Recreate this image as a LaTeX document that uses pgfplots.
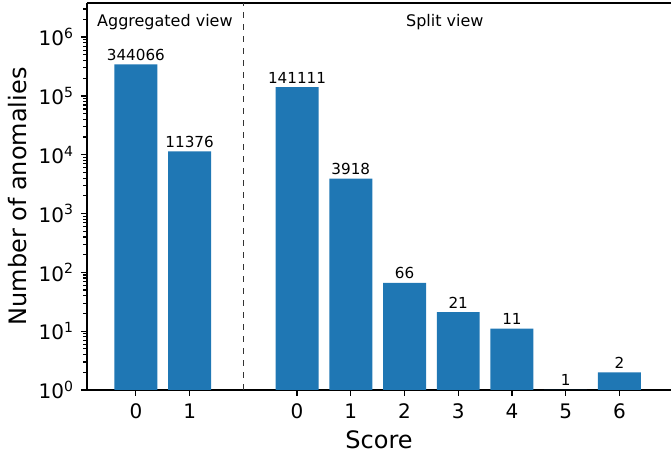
\documentclass[border=0pt]{standalone}
\usepackage{fontspec}
\setmainfont{DejaVu Sans}
\usepackage{pgfplots}
\pgfplotsset{compat=1.18}
\usetikzlibrary{calc}
\definecolor{mplblue}{RGB}{31,119,180}

\begin{document}
\begin{tikzpicture}
  \begin{axis}[
    name=ax,
    scale only axis,
    width=292pt, height=193.5pt,
    ymode=log,
    ymin=1, ymax=3.8e6,
    xmin=-0.91, xmax=9.96,
    axis x line=box, axis y line*=left,
    ybar, bar width=0.8, bar shift=0pt,
    xtick={0,1,3,4,5,6,7,8,9},
    xticklabels={0,1,0,1,2,3,4,5,6},
    ytick={1,10,100,1000,10000,100000,1000000},
    yticklabels={10\textsuperscript{0},10\textsuperscript{1},10\textsuperscript{2},10\textsuperscript{3},10\textsuperscript{4},10\textsuperscript{5},10\textsuperscript{6}},
    minor ytick={2,3,4,5,6,7,8,9,
      20,30,40,50,60,70,80,90,
      200,300,400,500,600,700,800,900,
      2e3,3e3,4e3,5e3,6e3,7e3,8e3,9e3,
      2e4,3e4,4e4,5e4,6e4,7e4,8e4,9e4,
      2e5,3e5,4e5,5e5,6e5,7e5,8e5,9e5,
      2e6,3e6},
    xtick pos=bottom, ytick pos=left,
    tick align=outside,
    major tick length=3pt, minor tick length=1.8pt,
    every tick/.style={black, line width=0.6pt},
    axis line style={line width=0.7pt},
    tick label style={font=\fontsize{10}{11}\selectfont},
    xticklabel style={yshift=-0.5pt},
    xlabel={Score}, ylabel={Number of anomalies},
    label style={font=\fontsize{12}{13}\selectfont},
    xlabel style={yshift=1pt},
    ylabel style={yshift=-1pt},
    nodes near coords,
    point meta=explicit symbolic,
    every node near coord/.append style={font=\fontsize{7.6}{8}\selectfont, black, yshift=-1.5pt},
    clip=false,
  ]
    \addplot[fill=mplblue, draw=none] coordinates {
      (0,344066) [344066]
      (1,11376) [11376]
      (3,141111) [141111]
      (4,3918) [3918]
      (5,66) [66]
      (6,21) [21]
      (7,11) [11]
      (8,1) [1]
      (9,2) [2]
    };
    \draw[dashed, line width=0.4pt, black!80] (axis cs:2,1) -- (axis cs:2,3.8e6);
    \node[font=\fontsize{8}{9}\selectfont] at (axis cs:0.54,1.8e6) {Aggregated view};
    \node[font=\fontsize{8}{9}\selectfont] at (axis cs:5.75,1.8e6) {Split view};
  \end{axis}
  \pgfresetboundingbox
  \useasboundingbox ($(ax.south west)+(-43.5pt,-32pt)$) rectangle ($(ax.north east)+(0pt,1.5pt)$);
\end{tikzpicture}
\end{document}
